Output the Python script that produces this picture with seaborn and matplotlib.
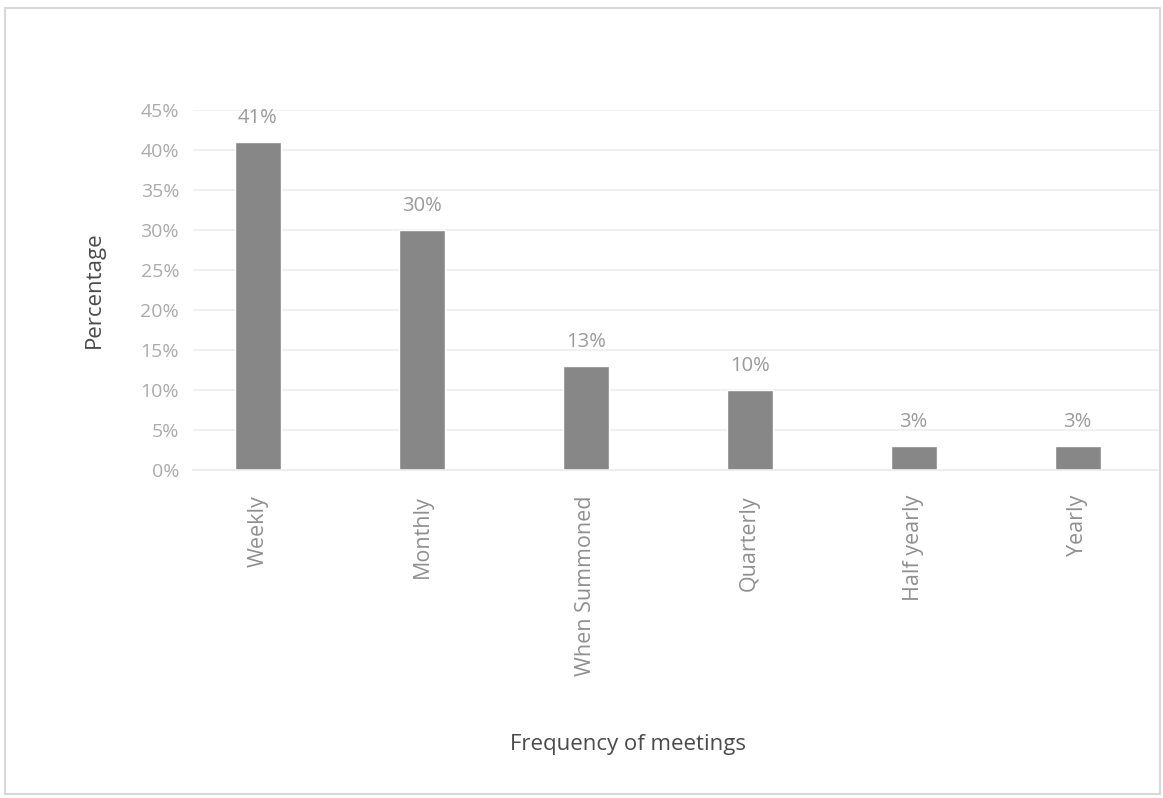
import matplotlib
matplotlib.use("Agg")
import matplotlib.pyplot as plt
import seaborn as sns
import pandas as pd
from matplotlib.ticker import FuncFormatter, MultipleLocator
from matplotlib.patches import Rectangle

# Meeting frequency survey results (percent of respondents)
categories = ["Weekly", "Monthly", "When Summoned", "Quarterly", "Half yearly", "Yearly"]
percentages = [41, 30, 13, 10, 3, 3]
value_labels = ["41%", "30%", "13%", "10%", "3%", "3%"]

df = pd.DataFrame({"Frequency": categories, "Percentage": percentages})

sns.set_theme(style="white")
plt.rcParams["font.family"] = ["Open Sans", "DejaVu Sans"]

fig = plt.figure(figsize=(11.63, 7.98), dpi=100)
ax = fig.add_axes([0.166, 0.411, 0.831, 0.451])

sns.barplot(data=df, x="Frequency", y="Percentage", color="#878787",
            width=0.28, ax=ax, saturation=1)

ax.set_xlim(-0.396, 5.5)
ax.set_ylim(0, 45)
ax.yaxis.set_major_locator(MultipleLocator(5))
ax.yaxis.set_major_formatter(FuncFormatter(lambda v, _: f"{int(v)}%"))
ax.grid(axis="y", color="#efefef", linewidth=1.2)
ax.set_axisbelow(True)

for s in ax.spines.values():
    s.set_visible(False)
ax.spines["bottom"].set_visible(True)
ax.spines["bottom"].set_color("#ececec")

ax.tick_params(axis="y", labelsize=14, labelcolor="#ababab", length=0, pad=10)
ax.tick_params(axis="x", labelsize=15.5, labelcolor="#8f8f8f", length=0, pad=18)
plt.setp(ax.get_xticklabels(), rotation=90, va="top")

for patch, lab in zip(ax.patches, value_labels):
    ax.annotate(lab, (patch.get_x() + patch.get_width() / 2, patch.get_height()),
                xytext=(0, 10), textcoords="offset points", ha="center", va="bottom",
                fontsize=14.5, color="#9a9a9a")

ax.set_ylabel("Percentage", fontsize=16, color="#4a4a4a")
ax.yaxis.set_label_coords(-0.091, 0.5)
ax.set_xlabel("Frequency of meetings", fontsize=16, color="#4a4a4a")
ax.xaxis.label.set_va("center")
ax.xaxis.set_label_coords(0.45, -0.764)

# faint frame around the chart area
fig.patches.append(Rectangle((0.004, 0.005), 0.993, 0.985, transform=fig.transFigure,
                             fill=False, edgecolor="#d8d8d8", linewidth=1.5))

fig.savefig("out.png", dpi=100, facecolor="white")
